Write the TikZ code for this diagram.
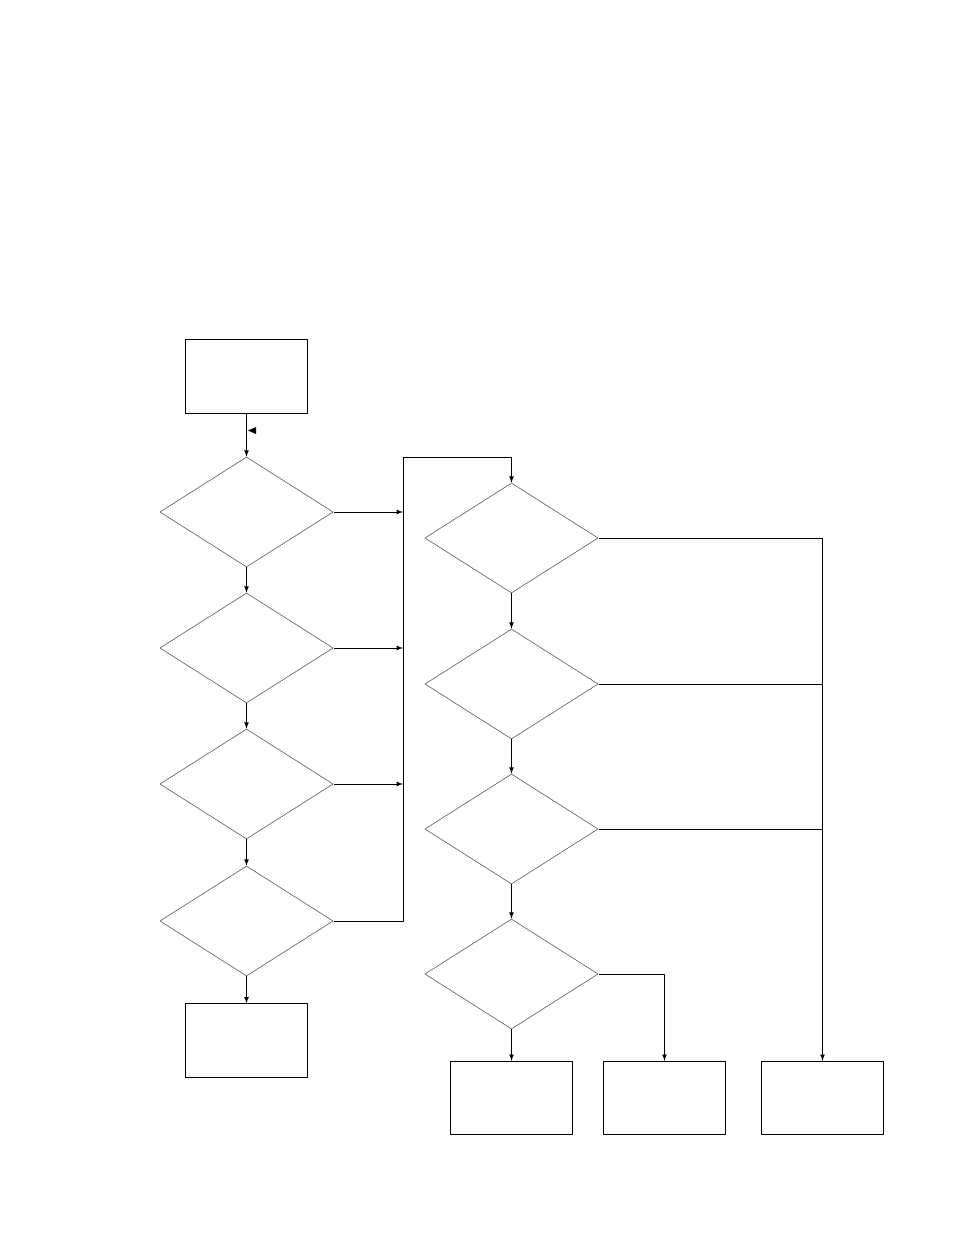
\documentclass[tikz,border=0pt]{standalone}
\usetikzlibrary{shapes.geometric}
\begin{document}
\begin{tikzpicture}[line join=round,>=latex,x=0.75pt,y=-0.75pt,
    box/.style={draw,line width=0.75pt,minimum width=92pt,minimum height=55pt,inner sep=0pt},
    test/.style={diamond,draw=black!60,line width=0.5pt,minimum width=130pt,minimum height=82.5pt,inner sep=0pt},
    link/.style={line width=0.65pt}]
    \useasboundingbox (0,0) rectangle (954,1235);
    %Cột trái
    \node[box] (start) at (246.5,376.5) {};
    \foreach \i/\y in {1/512,2/648,3/784,4/921} \node[test] (q\i) at (246.5,\y) {};
    \node[box] (stop) at (246.5,1040.5) {};
    %Cột phải
    \foreach \i/\y in {1/538,2/684,3/829,4/974} \node[test] (r\i) at (511.5,\y) {};
    \foreach \i/\x in {1/511.5,2/664.5,3/822.5} \node[box] (out\i) at (\x,1098) {};
    %Các đường nối
    \coordinate (bus) at (403,457);
    \coordinate (rbus) at (822.5,538);
    \draw[link,->] (start) -- (q1);
    \fill (248,430.5) -- (256,427) -- (256,434) -- cycle;
    \foreach \i/\j in {1/2,2/3,3/4} \draw[link,->] (q\i) -- (q\j);
    \draw[link,->] (q4) -- (stop);
    \foreach \i in {1,2,3} \draw[link,->] (q\i.east) -- (q\i.east -| bus);
    \draw[link,->] (q4.east) -| (bus) -| (r1.north);
    \foreach \i/\j in {1/2,2/3,3/4} \draw[link,->] (r\i) -- (r\j);
    \draw[link,->] (r4) -- (out1);
    \draw[link,->] (r4.east) -| (out2.north);
    \draw[link,->] (r1.east) -| (out3.north);
    \foreach \i in {2,3} \draw[link] (r\i.east) -- (r\i.east -| rbus);
\end{tikzpicture}
\end{document}
